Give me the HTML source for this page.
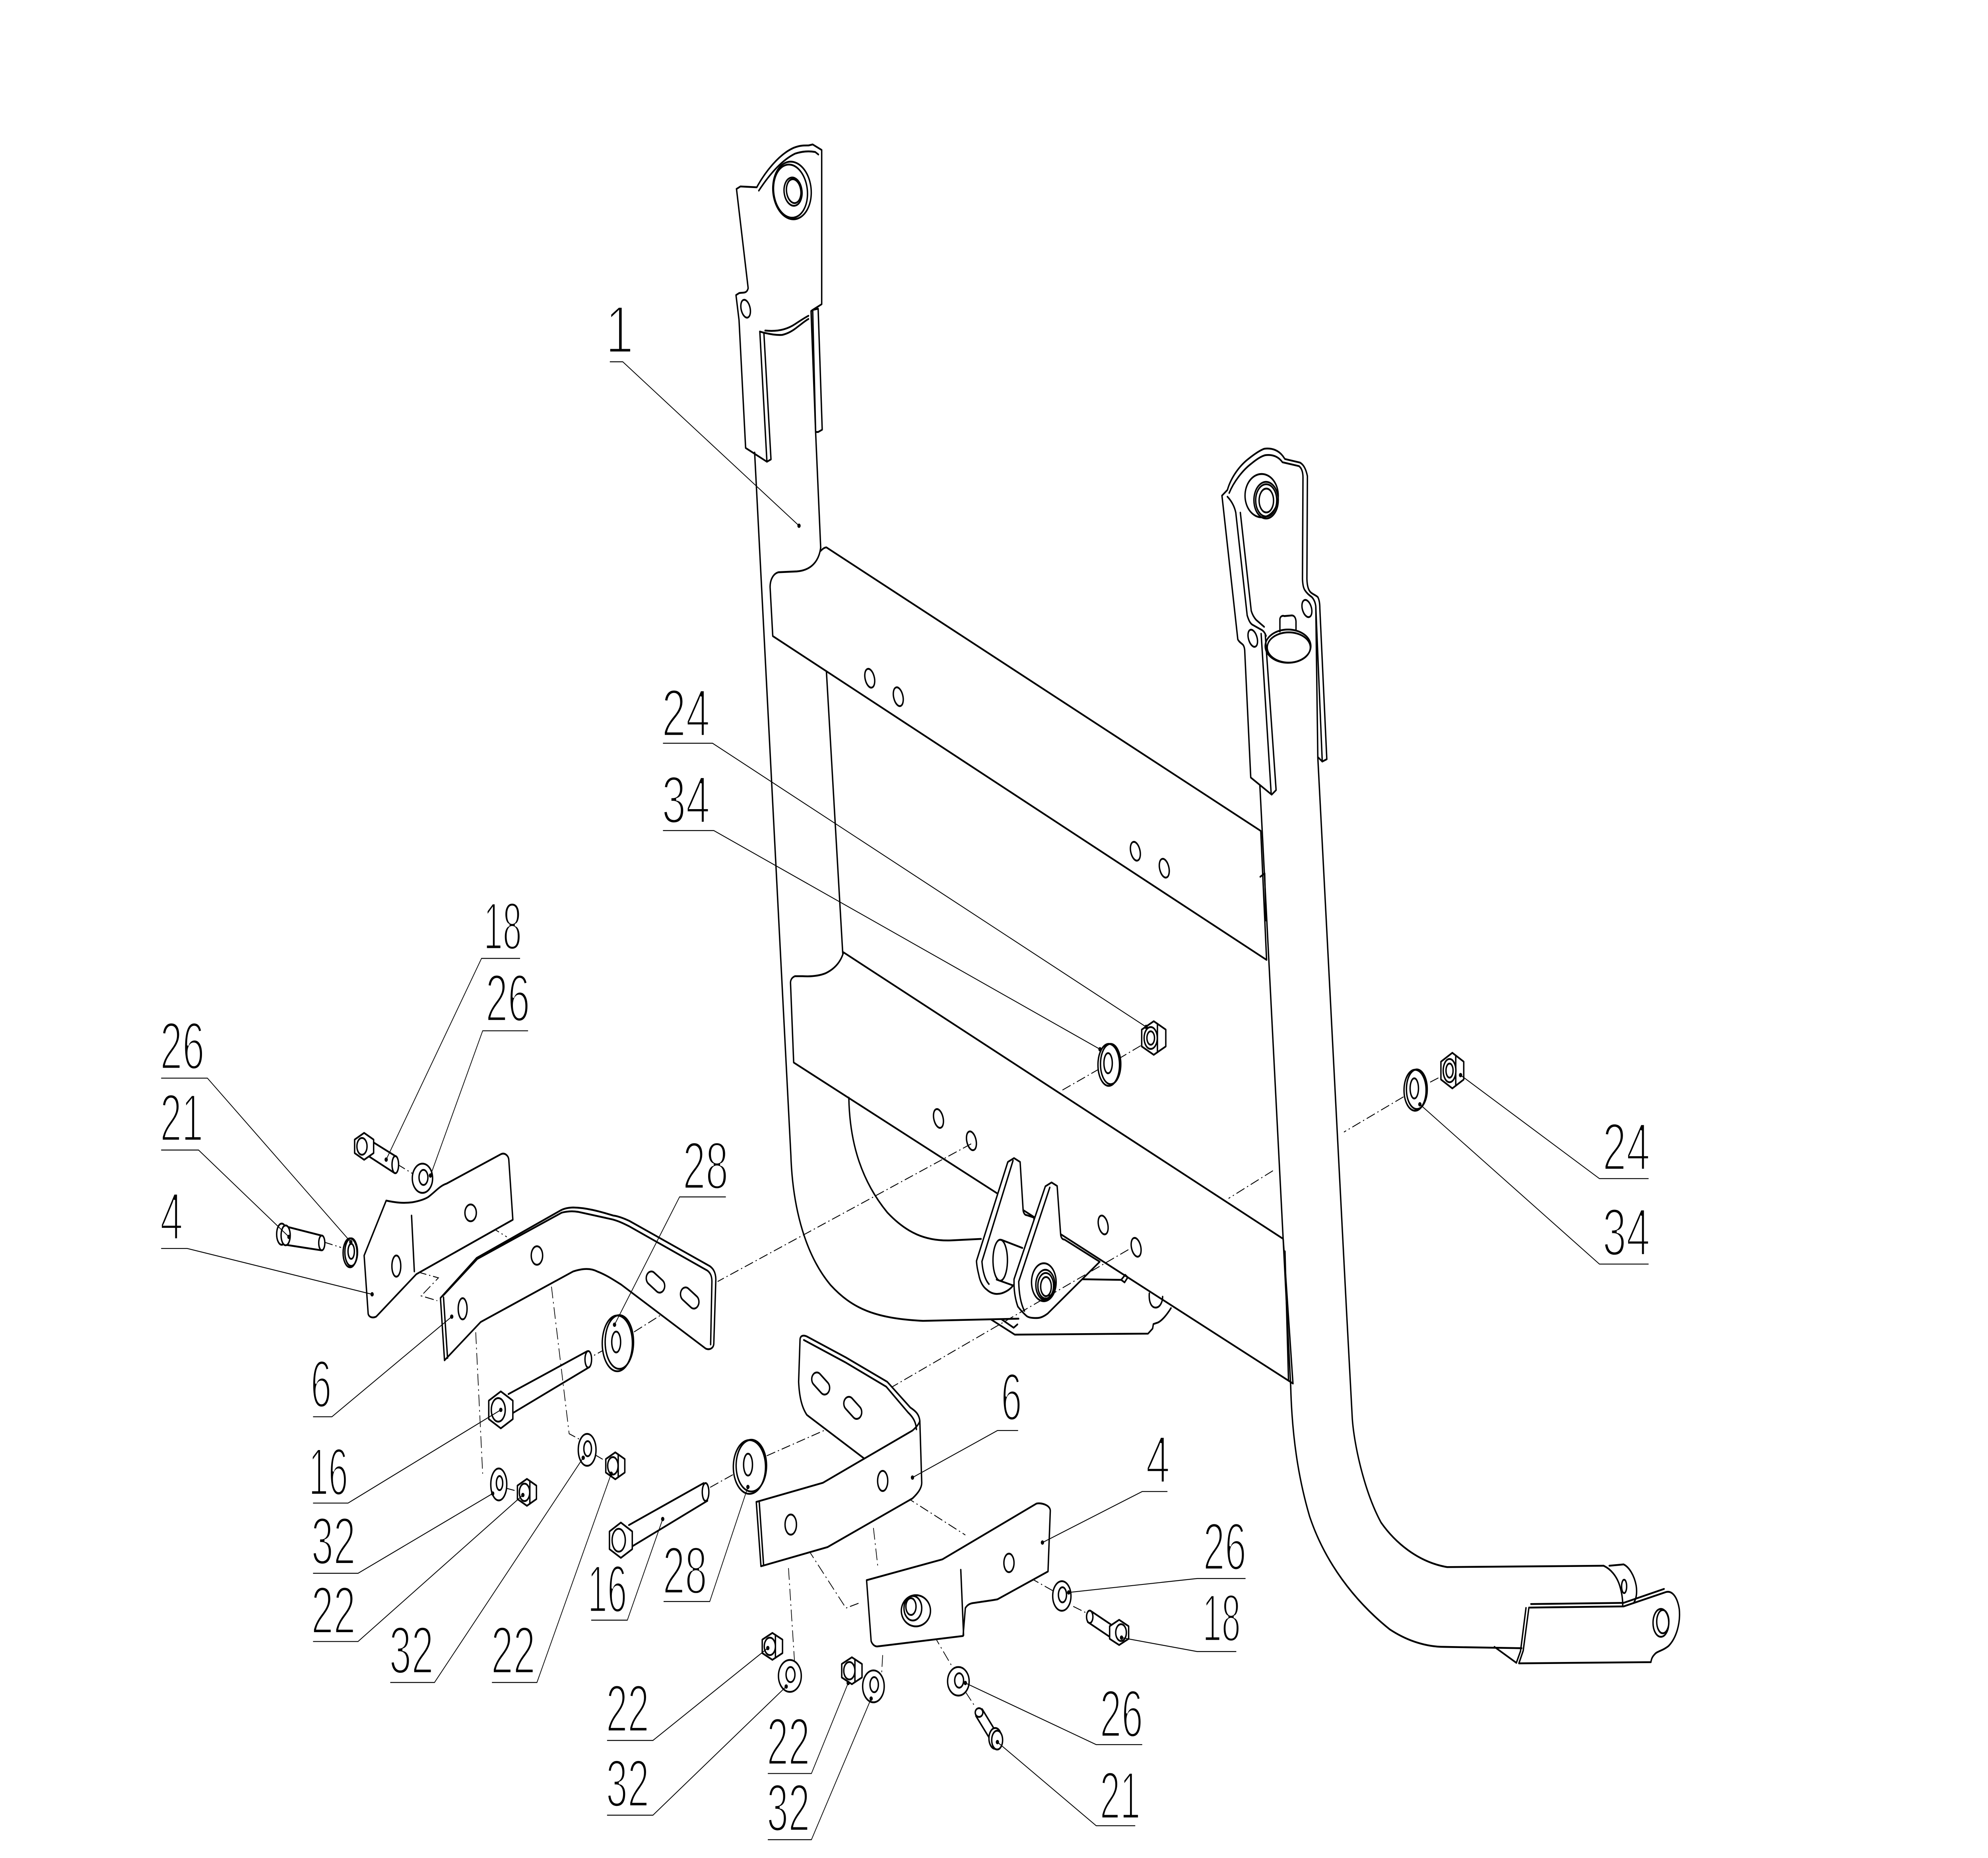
<!DOCTYPE html>
<html><head><meta charset="utf-8"><style>
html,body{margin:0;padding:0;background:#fff;width:100%;height:100%;overflow:hidden;}
svg{position:absolute;left:0;top:0;width:100vw;height:100vh;display:block}
.o{fill:none;stroke:#000;stroke-width:1.1;stroke-linejoin:round;stroke-linecap:round}
.w{fill:#fff;stroke:#000;stroke-width:1.1;stroke-linejoin:round;stroke-linecap:round}
.o .w{fill:#fff}
.l{fill:none;stroke:#000;stroke-width:0.55}
.d{fill:none;stroke:#000;stroke-width:0.55;stroke-dasharray:7 2.2 1 2.2}
text{font-family:"Liberation Sans",sans-serif;font-size:40px;fill:#000;stroke:#fff;stroke-width:1.5}
</style></head><body>
<svg xmlns="http://www.w3.org/2000/svg" viewBox="0 0 1568 1106.2" preserveAspectRatio="none">
<rect x="0" y="0" width="1568" height="1106.2" fill="#fff"/>

<!-- main frame (part 1) -->
<g class="o">
<!-- left eye plate -->
<path d="M580.9,112.5 L584,111 L596.9,111.5 C603,103 614,92 626,88 C631,86.5 634,86.6 637.7,86.6 L641,86 L648.1,89.3 L648.1,181.1 L641,184.5"/>
<path d="M598.5,113.5 C605,106 615,96 627,91.5 C633,90 638,89.8 643,90.5 L645.5,92"/>
<path d="M580.9,112.5 L590.1,171.6 C589,175 586,174 583,174.5 L580.5,175.7 L582.9,190.6 L588.1,266.7 L604.9,274.9 L608.1,273.5 L602.5,198.1 L599.3,197.4"/>
<path d="M599.3,197.4 L604.9,274.9"/>
<ellipse cx="624.7" cy="113.4" rx="15" ry="17.3" transform="rotate(-15 624.7 113.4)"/>
<ellipse cx="623.5" cy="113.8" rx="13.2" ry="16" transform="rotate(-15 623.5 113.8)"/>
<ellipse cx="625.5" cy="114.1" rx="7" ry="8.5" transform="rotate(-15 625.5 114.1)"/>
<ellipse cx="626" cy="113.8" rx="5.6" ry="7.2" transform="rotate(-15 626 113.8)"/>
<ellipse cx="588.1" cy="183.8" rx="3.5" ry="5.5" transform="rotate(-20 588.1 183.8)"/>
<path d="M602.5,198.1 C608,199 612,199.6 616.9,199.4 C622,198.5 626,196.5 628.9,194.7 C632,193 635,191 637.7,189.9"/>
<path d="M603.5,196.8 C612,197.5 620,196.5 627,193 C632,190.5 635,189 637.7,188"/>
<path d="M639.7,185.2 L641,184.5 L645.3,183.8 L648.5,255.8 L645.3,257.2 L643.3,257.2 Z"/>
<path d="M641,185 L643.3,257.2"/>
<!-- left tube -->
<path d="M595.2,269.4 L623.8,688 C625,715 633,745 655,765 C672,779 690,785 728,786.4 L803.4,785.1"/>
<path d="M643.3,257.2 L647.3,326"/>
<!-- upper beam -->
<path d="M647.3,326 C646,334 640,339.5 628.5,340.2 L614,340.7 C610,341.5 607.4,345 607.4,349.5 L609.5,378.7 L999,571.5 L994.4,494.7 L651.8,325.9 C650,326 648.6,327 647.3,328"/>
<path d="M994,522 L997.5,520 L998.5,548"/>
<path d="M651.8,399.6 L664.7,567.6"/>
<ellipse cx="686" cy="403.8" rx="3.6" ry="5.8" transform="rotate(-20 686 403.8)"/>
<ellipse cx="708.5" cy="414.8" rx="3.6" ry="5.8" transform="rotate(-20 708.5 414.8)"/>
<ellipse cx="895.5" cy="506.8" rx="3.6" ry="5.8" transform="rotate(-20 895.5 506.8)"/>
<ellipse cx="918.3" cy="516.9" rx="3.6" ry="5.8" transform="rotate(-20 918.3 516.9)"/>
<!-- lower beam -->
<path d="M665.3,567 C663,573 658,577 651,579.5 C646,581 640,581.5 633,581.2 L627,581.2 C624.5,582 623.5,583.5 623.5,585.1 L626,632.6 L1019.8,823.7"/>
<path d="M665.3,567 L1012.1,737.6 L1019.8,823.7"/>
<path d="M1013.5,745 L1016.3,822"/>
<ellipse cx="740.2" cy="665.9" rx="3.6" ry="5.8" transform="rotate(-20 740.2 665.9)"/>
<ellipse cx="766.2" cy="679.2" rx="3.6" ry="5.8" transform="rotate(-20 766.2 679.2)"/>
<ellipse cx="870.1" cy="729.3" rx="3.6" ry="5.8" transform="rotate(-20 870.1 729.3)"/>
<ellipse cx="896.1" cy="742.6" rx="3.6" ry="5.8" transform="rotate(-20 896.1 742.6)"/>
<path d="M669.5,653.5 C670,675 676,700 700,722 C715,734 730,739 750,738.5 L773.8,737.6"/>
<!-- right tube -->
<path d="M993.7,467.7 L1018,825 C1019,855 1024,880 1033,903 C1045,930 1068,953 1096,970 C1110,977 1125,980.5 1139.1,980.5 L1200.2,981.3"/>
<path d="M1039.4,451 L1062.1,781.2 L1066.6,844.6 C1068,860 1076,888 1089.3,906.5 C1100,918 1118,930 1141.4,933 L1264.8,932.2"/>
<!-- right eye plate -->
<path d="M963.8,295.1 L968.1,291.7 C971,284 978,277 985,273 C990,270 994,268 997.1,267.2 C1003,266.5 1009,268 1012.8,272.6 L1013.5,273.3 L1025.3,275.4 C1028,276.5 1030,279 1031.2,283.5 L1030.8,344.7 C1031,349 1032,351.5 1034,352.8 C1036,354 1038,354.5 1039.4,355.5 C1040.5,357 1041,359 1041,362.3 L1046.5,452 L1042.9,453.4 L1039.4,450.7 L1037.8,361"/>
<path d="M969.5,293.5 C973,287 980,280 987,276 C991,273.5 995,271.5 998,271 C1003,270.5 1008,271.5 1011.5,275.2 L1024.5,277.5 C1026.5,278.5 1027.7,281 1027.7,284.2 L1027.3,344.7 C1027.5,348 1028,350 1029.2,351.4 C1031,353.5 1033,354.5 1034.7,355.5 C1036.5,357 1037.5,359 1037.8,361 L1042.9,453.4"/>
<path d="M963.8,295.1 L976.3,380.7 C977.5,382.5 979.5,383 980.6,384.1 C981.5,385.2 981.8,386.5 981.8,388.2 L986.5,462.9 L1003,473.1 L1006.5,470.4 L997.9,377.3"/>
<path d="M1002.6,472.4 L994.7,377.3"/>
<path d="M968.1,295.7 C971,298 973.5,301 974.7,305.2 L983.7,366.4 C985,369.5 986,371 987.7,371.9 L995.5,375.2 C997,376 998,377.3 998.6,378.6"/>
<path d="M978.3,305.2 L986.9,363.7 C988,366.5 989.5,368 990.8,369.1 L997.1,373.2"/>
<ellipse cx="995.1" cy="295.1" rx="13.1" ry="12.9"/>
<ellipse cx="998.6" cy="297.8" rx="9.6" ry="10.9"/>
<ellipse cx="998.7" cy="297.9" rx="8.3" ry="9.6"/>
<ellipse cx="998.8" cy="298" rx="5.7" ry="7.1"/>
<ellipse cx="988.1" cy="380" rx="3.3" ry="5.4" transform="rotate(-25 988.1 380)"/>
<ellipse cx="1030.8" cy="362.3" rx="3.5" ry="5.4" transform="rotate(-25 1030.8 362.3)"/>
<ellipse cx="1015.9" cy="384.7" rx="18" ry="9.9"/>
<ellipse cx="1016.5" cy="385.5" rx="17" ry="9"/>
<path d="M1009.5,376 L1009.5,368.5 C1010,366.5 1012,366.5 1013,366.8 L1019,366.4 C1021,366.5 1022,368 1022.2,370 L1022.2,375.5"/>
<!-- right foot -->
<path d="M1264.8,932.2 C1270,934 1275,938 1277.5,944 C1279.5,949 1280,953 1279.9,957"/>
<path d="M1269.3,932.2 L1280.6,931.4 C1285,933 1289,938 1290.5,944 C1291.5,949 1290.5,953 1287,956"/>
<ellipse cx="1281" cy="944.5" rx="2" ry="4"/>
<path d="M1178.7,980.5 L1196,990"/>
<path class="w" d="M1205.9,957.1 L1280.6,956.4 L1313.4,948 C1319,946.5 1323,951 1324.5,958 C1325.5,966 1322.5,975 1316,980 C1311,983 1307,983 1305,985 C1303,986.5 1302.5,988 1302.1,989.6 L1198,990.3 L1201.4,982.8 Z"/>
<path d="M1207.5,955 L1280.5,954.3 L1312.5,946"/>
<path d="M1203.6,957.3 L1199.3,983 L1196,990"/>
<ellipse cx="1310" cy="966.2" rx="6.2" ry="8.3"/>
<ellipse cx="1311.5" cy="965.5" rx="4.8" ry="6.9"/>
<!-- clevis bracket -->
<path d="M781.7,785.6 L800.4,794.6 L905.5,794 L909.1,791 L909.7,788.3 L913.3,787.4 C917,786 921,782 923.6,778.8"/>
<path d="M790,785.5 L799.5,790.5 L802.5,788.5"/>
<path d="M852.3,761.6 L884.3,762 L887.5,759 L889.5,760.5 L887,763.5 L884.3,762"/>
<path d="M906.5,770 C906,775 908,778.5 911.5,778.5 C915,778.5 917,775 917,772"/>
<path class="w" d="M794.9,691.8 L799.8,689.5 L804.6,691.8 L807,720.8 C807.5,722.5 808.5,723.5 810,723.5 L815.5,724.9 L816,760 L799.2,765.2 C797,767.5 794,769 790,770 C786,770.8 782,770.3 778.6,768 C775,766 773,763 772,759 C771,756 770.3,753 770.2,750.7 Z"/>
<path d="M799,691 L774.5,751 C775,757 777,762 780,764.5"/>
<path d="M790,738.2 L806.4,743"/>
<path d="M786,761.8 L798.6,765.2"/>
<ellipse class="w" cx="788.9" cy="750.3" rx="5.7" ry="12.2"/>
<path class="w" d="M799.8,761.6 L824.5,706.3 L829.4,704 L833.8,706.1 L836.6,735.3 C837,737 838,738 839.6,738 L867.4,751.2 L826.4,782 C823,784 820,784.7 817.9,784.7 C814,784.8 811,784.5 809.4,783.3 C806,781 804,779 802.8,777.9 C801,774 800,770 799.8,765.2 Z"/>
<path d="M828,707 L803.5,763 C803.7,770 805,776 808,780.5"/>
<ellipse class="w" cx="823.3" cy="763.4" rx="9.7" ry="11.3"/>
<ellipse cx="824.5" cy="765" rx="7.5" ry="9"/>
<ellipse cx="824.8" cy="765.5" rx="6.2" ry="7.6"/>
<ellipse cx="825" cy="766" rx="4.2" ry="5.7"/>
</g>

<!-- dash-dot axis lines -->
<g class="d">
<path d="M838,649 L868,636"/>
<path d="M882,630.5 L901,622"/>
<path d="M1128,644.3 L1138.7,640.1"/>
<path d="M1107,653 L1060,674"/>
<path d="M1004,697 L969,713.5"/>
<path d="M890,744 L703,826"/>
<path d="M682,841 L604,867"/>
<path d="M578,878 L559,886"/>
<path d="M766,681 L566,763"/>
<path d="M540,774 L498,794"/>
<path d="M478,803 L466,808"/>
<path d="M313,693 L326,699"/>
<path d="M255.5,739.5 L269,742.7"/>
<path d="M317.3,754.7 L345.8,760.8 L332.2,771.5 L344.9,774.4"/>
<path d="M376,725.3 L399.7,736.4"/>
<path d="M374.4,780.8 L380.7,877.4"/>
<path d="M399,886 L409,888"/>
<path d="M433,753.8 L448.9,853.6 L456.8,856.8"/>
<path d="M469,866 L478,870"/>
<path d="M629.1,912.8 L667.2,957.4 L678,954.3"/>
<path d="M703.4,885.9 L761.4,913.9"/>
<path d="M621.9,933.6 L626.6,988.5"/>
<path d="M688.9,909.7 L692.5,933.6"/>
<path d="M696.2,985.4 L695.4,995.8"/>
<path d="M801.2,934.6 L830.2,947"/>
<path d="M846.5,956.4 L857.4,960.5"/>
<path d="M728.8,963.6 L750.5,991.6"/>
<path d="M761.4,1007.2 L768.6,1015.5"/>
</g>

<!-- loose parts -->
<g class="w">
<ellipse cx="874.5" cy="634" rx="8.5" ry="12.5"/>
<ellipse cx="876" cy="633.5" rx="8" ry="12" fill="none"/>
<ellipse cx="874" cy="633" rx="3.3" ry="6"/>
<polygon points="910,608 919.5,613 919.5,623 910,628 900.5,623 900.5,613"/>
<path d="M912.9,609.5 L912.9,626.5" fill="none"/>
<ellipse cx="907.6" cy="618" rx="5.2" ry="6.5"/>
<ellipse cx="907.6" cy="618" rx="3" ry="4"/>
<ellipse cx="1116.1" cy="649.1" rx="8.7" ry="12.2"/>
<ellipse cx="1117.5" cy="648.5" rx="8.2" ry="11.8" fill="none"/>
<ellipse cx="1115.5" cy="648" rx="3.3" ry="6"/>
<polygon points="1145.5,626.8 1154.5,632.1 1154.5,642.7 1145.5,648 1136.5,642.7 1136.5,632.1"/>
<path d="M1148.2,628.4 L1148.2,646.4" fill="none"/>
<ellipse cx="1143.3" cy="637.4" rx="5" ry="6.9"/>
<ellipse cx="1143.3" cy="637.4" rx="2.8" ry="4.2"/>

<path d="M287.2,747.5 L304.6,714.8 C312,716 318,716.5 325.2,715.8 C331,715 335,714 337.9,712.6 C344,709 347,706 352.2,704.7 L395,687.2 C398,686 401,688 401.3,690.4 L404.5,726.2 L328.4,758.6 L296.7,783.9 C293.5,785 291,784 290.4,782.3 Z"/>
<path d="M324.6,723.7 L326.8,757" fill="none"/>
<ellipse cx="312.6" cy="753.8" rx="3.5" ry="6.3"/>
<ellipse cx="371.2" cy="722.1" rx="4.5" ry="5"/>
<path d="M347.4,772.8 L350.6,809.9 L379.1,787.1 L452,757 C460,755 466,755 471.1,757 C478,759 484,762 490.1,764.9 L556.6,802.9 C560,804 563,802.5 563,799.8 L564.6,761.7 C564.5,757 562,755 559.8,753.8 L496.4,726.9 C491,725 487,724 483.7,723.7 C472,721 462,719 452,718.9 C448,719 445,719.5 442.5,720.5 L375.9,749 Z"/>
<path d="M349.8,772.3 L353,808.5" fill="none"/>
<path d="M350,771 L376.5,749.5 L443,722 C448,721 452,721 456,721.5 L483,726 C488,727 492,728.5 496,730 L558,756.5 C560.5,758 561.5,760 561.5,763 L560.5,800.5" fill="none"/>
<ellipse cx="364.9" cy="779.2" rx="3.5" ry="6.3"/>
<ellipse cx="423.5" cy="747.5" rx="4.5" ry="5.5"/>
<rect x="509" y="759.3" width="16" height="8" rx="4" transform="rotate(35 517 763.3)"/>
<rect x="536" y="768.8" width="16" height="8" rx="4" transform="rotate(35 544 772.8)"/>
<path d="M290,678 L312.3,688.5 M289,687.5 L311,698.3" fill="none"/>
<ellipse cx="311.8" cy="693.4" rx="2.6" ry="5.1"/>
<polygon points="287.2,674.5 294.7,678.5 294.7,686.5 287.2,690.5 279.7,686.5 279.7,678.5"/>
<ellipse cx="285.5" cy="682.5" rx="4" ry="5"/>
<ellipse cx="333.2" cy="701.5" rx="8" ry="8.7"/>
<ellipse cx="334" cy="701" rx="3.5" ry="4.5"/>
<path d="M226,730.3 L253.5,735.6 M226,741.2 L253.5,744.4" fill="none"/>
<ellipse cx="253.8" cy="740" rx="2.4" ry="4.4"/>
<ellipse cx="222.2" cy="734.8" rx="4" ry="6.3"/>
<ellipse cx="225.3" cy="735.5" rx="3.6" ry="5.9"/>
<ellipse cx="276.1" cy="745.9" rx="5.5" ry="8.6"/>
<ellipse cx="277" cy="745.5" rx="5" ry="8.2" fill="none"/>
<ellipse cx="277" cy="745" rx="2.5" ry="4.5"/>
<path d="M401,830 L463.1,804.5 M404,841.5 L464.7,814" fill="none"/>
<ellipse cx="464" cy="809.3" rx="2.6" ry="4.9"/>
<polygon points="395,828.4 404.5,833.9 404.5,844.9 395,850.4 385.5,844.9 385.5,833.9"/>
<ellipse cx="393" cy="839.4" rx="5.5" ry="7"/>
<ellipse cx="486.9" cy="799.8" rx="11.9" ry="16.6"/>
<ellipse cx="488.5" cy="799" rx="11.2" ry="16" fill="none"/>
<ellipse cx="486" cy="799" rx="3.5" ry="6.2"/>
<ellipse cx="393.4" cy="883.8" rx="6.3" ry="9.5"/>
<ellipse cx="394" cy="883" rx="2.5" ry="4.2"/>
<polygon points="415.6,880.5 423.1,884.5 423.1,892.5 415.6,896.5 408.1,892.5 408.1,884.5"/>
<path d="M417.9,881.7 L417.9,895.3" fill="none"/>
<ellipse cx="413.7" cy="888.5" rx="4.1" ry="5.2"/>
<ellipse cx="463.1" cy="863.2" rx="7" ry="9.5"/>
<ellipse cx="463.5" cy="862.5" rx="3" ry="4.5"/>
<polygon points="485.3,864.7 492.8,868.7 492.8,876.7 485.3,880.7 477.8,876.7 477.8,868.7"/>
<path d="M487.6,865.9 L487.6,879.5" fill="none"/>
<ellipse cx="483.4" cy="872.7" rx="4.1" ry="5.2"/>
<path d="M496,908 L555,883 M499,920.5 L558,893.5" fill="none"/>
<ellipse cx="556.5" cy="888.3" rx="2.6" ry="5.3"/>
<polygon points="489.7,906.5 498.7,911.8 498.7,922.3 489.7,927.5 480.7,922.3 480.7,911.8"/>
<ellipse cx="488" cy="917" rx="5.2" ry="6.8"/>
<ellipse cx="591.1" cy="873.4" rx="12.7" ry="16"/>
<ellipse cx="592.6" cy="872.6" rx="12" ry="15.4" fill="none"/>
<ellipse cx="590" cy="872" rx="3.5" ry="6.5"/>
<path d="M596.5,894.2 L649.1,882.8 L681.7,868.4 L636.4,842.4 C632.5,838 630.5,832 629.9,822.7 L631,797.8 C631,795.5 633,794.5 636.4,795.7 L667.2,808.2 L699.8,822.7 L718,838 C722,840 725,842 725.5,846 L727,882.8 C727,886 724,889 719.7,892.1 L652.7,921.1 L600.2,932.5 Z"/>
<path d="M681.7,868.4 L719.7,851.7 C723,849.5 725,847.5 725.5,846" fill="none"/>
<path d="M598.8,894 L602.3,932" fill="none"/>
<path d="M634,797.8 L667,811.2 L699,825.6 L716.3,841 C720.5,844 722.5,847 722.8,851" fill="none"/>
<rect x="639.3" y="819.7" width="16" height="8" rx="4" transform="rotate(40 647.3 823.7)"/>
<rect x="664.6" y="834.2" width="16" height="8" rx="4" transform="rotate(40 672.6 838.2)"/>
<ellipse cx="623.7" cy="907.7" rx="4.5" ry="6"/>
<ellipse cx="696.2" cy="881.7" rx="4" ry="6"/>
<path d="M683.5,940.8 L687.1,977.1 C688,979 690,980.5 692.5,980.2 L759.6,974 L761.4,957.4 C763,955.5 765,954.5 768.6,954.3 C775,953.5 781,953 786.7,952.2 L826.6,935.6 L828.4,899.4 C828.3,896 821,894.5 817.5,895.2 L743.3,928.4 Z"/>
<path d="M757.8,934.6 L760,973.5" fill="none"/>
<ellipse cx="722.4" cy="959" rx="11.5" ry="9.3"/>
<ellipse cx="720" cy="957.5" rx="7" ry="7.3"/>
<ellipse cx="718.5" cy="956.5" rx="4" ry="5"/>
<ellipse cx="795.8" cy="930.5" rx="4" ry="5.5"/>
<ellipse cx="837.5" cy="950.2" rx="7.2" ry="8.8"/>
<ellipse cx="838" cy="949.5" rx="3.2" ry="4.5"/>
<path d="M861.1,959.5 L879.6,968.9 M857.9,965.7 L876.4,975.1" fill="none"/>
<ellipse cx="859.5" cy="962.6" rx="2.5" ry="3.7"/>
<polygon points="882.7,964.4 890.2,968.2 890.2,975.7 882.7,979.4 875.2,975.7 875.2,968.2"/>
<ellipse cx="884.2" cy="972" rx="4.2" ry="5"/>
<ellipse cx="755.9" cy="1001" rx="8.5" ry="8.5"/>
<ellipse cx="756.5" cy="1000.5" rx="3.5" ry="4.3"/>
<path d="M774.7,1017.6 L785.5,1031 M769.7,1021.6 L780.5,1035" fill="none"/>
<ellipse cx="772.2" cy="1019.6" rx="3" ry="2.6"/>
<ellipse cx="785" cy="1035" rx="5" ry="6.2"/>
<ellipse cx="786.5" cy="1036" rx="4.3" ry="5.6"/>
<polygon points="609.2,972.2 617.2,976.2 617.2,984.2 609.2,988.2 601.2,984.2 601.2,976.2"/>
<path d="M611.6,973.4 L611.6,987" fill="none"/>
<ellipse cx="607.2" cy="980.2" rx="4.4" ry="5.2"/>
<ellipse cx="623" cy="997.8" rx="9" ry="9.5"/>
<ellipse cx="623.5" cy="997" rx="3.5" ry="4.5"/>
<polygon points="671.9,986.7 679.9,990.7 679.9,998.7 671.9,1002.7 663.9,998.7 663.9,990.7"/>
<path d="M674.3,987.9 L674.3,1001.5" fill="none"/>
<ellipse cx="669.9" cy="994.7" rx="4.4" ry="5.2"/>
<ellipse cx="688.9" cy="1004" rx="8.5" ry="9.5"/>
<ellipse cx="689.5" cy="1003" rx="3.3" ry="4.5"/>
</g>

<!-- leaders with underlines -->
<g class="l">
<path d="M481,215.4 H491.2 L630.2,313"/>
<path d="M522.9,442.5 H562 L904,611.4"/>
<path d="M522.9,494.5 H563 L867.6,624.7"/>
<path d="M410.2,570.6 H379.8 L304.6,690.4"/>
<path d="M416.5,613.7 H380.7 L339.5,699.9"/>
<path d="M127.1,641.9 H163.6 L276.7,739.5"/>
<path d="M127.1,684.7 H156.6 L227.9,736.4"/>
<path d="M127.1,743.3 H147.7 L293.5,770.6"/>
<path d="M246.9,843.5 H261.8 L356.3,783.9"/>
<path d="M246.9,894.9 H274.5 L395,839.4"/>
<path d="M246.9,936.7 H282.4 L388.6,889.2"/>
<path d="M246.9,977.3 H282.4 L412.4,890.1"/>
<path d="M307.8,1001.7 H342.7 L460,867.9"/>
<path d="M388,1001.7 H423.5 L482.1,877.4"/>
<path d="M572.5,712.6 H536 L484.7,788.7"/>
<path d="M466.3,964.6 H494.8 L522.7,904.4"/>
<path d="M523.4,953.5 H559.8 L589.9,885.3"/>
<path d="M803,851.7 H786.7 L719.7,879.7"/>
<path d="M920.8,888 H900.9 L822.2,918.4"/>
<path d="M982.4,939.8 H944.3 L842.9,948.1"/>
<path d="M975.1,983.3 H944.3 L884.6,975"/>
<path d="M900.9,1038.7 H864.6 L761.4,1002"/>
<path d="M895.4,1087 H864.6 L786.7,1037.2"/>
<path d="M478.8,1036.2 H515 L605.6,981.2"/>
<path d="M478.8,1080.7 H515 L620.1,1004.1"/>
<path d="M605.6,1055.9 H640 L669,1002"/>
<path d="M605.6,1095.3 H640 L687.1,1011.3"/>
<path d="M1300.3,701.7 H1261.5 L1152,640.1"/>
<path d="M1300.3,752.6 H1261.5 L1119.9,657.5"/>
</g>
<g fill="#000">
<circle cx="630.2" cy="313" r="1.3"/>
<circle cx="904" cy="611.4" r="1.3"/>
<circle cx="867.6" cy="624.7" r="1.3"/>
<circle cx="304.6" cy="690.4" r="1.3"/>
<circle cx="339.5" cy="699.9" r="1.3"/>
<circle cx="276.7" cy="739.5" r="1.3"/>
<circle cx="227.9" cy="736.4" r="1.3"/>
<circle cx="293.5" cy="770.6" r="1.3"/>
<circle cx="356.3" cy="783.9" r="1.3"/>
<circle cx="395" cy="839.4" r="1.3"/>
<circle cx="388.6" cy="889.2" r="1.3"/>
<circle cx="412.4" cy="890.1" r="1.3"/>
<circle cx="460" cy="867.9" r="1.3"/>
<circle cx="482.1" cy="877.4" r="1.3"/>
<circle cx="484.7" cy="788.7" r="1.3"/>
<circle cx="522.7" cy="904.4" r="1.3"/>
<circle cx="589.9" cy="885.3" r="1.3"/>
<circle cx="719.7" cy="879.7" r="1.3"/>
<circle cx="822.2" cy="918.4" r="1.3"/>
<circle cx="842.9" cy="948.1" r="1.3"/>
<circle cx="884.6" cy="975" r="1.3"/>
<circle cx="761.4" cy="1002" r="1.3"/>
<circle cx="786.7" cy="1037.2" r="1.3"/>
<circle cx="605.6" cy="981.2" r="1.3"/>
<circle cx="620.1" cy="1004.1" r="1.3"/>
<circle cx="669" cy="1002" r="1.3"/>
<circle cx="687.1" cy="1011.3" r="1.3"/>
<circle cx="1152" cy="640.1" r="1.3"/>
<circle cx="1119.9" cy="657.5" r="1.3"/>
</g>

<!-- labels -->
<g>
<text x="477.5" y="210">1</text>
<text x="522" y="438.3" textLength="38" lengthAdjust="spacingAndGlyphs">24</text>
<text x="522" y="490" textLength="38" lengthAdjust="spacingAndGlyphs">34</text>
<text x="381.5" y="565.2" textLength="30" lengthAdjust="spacingAndGlyphs">18</text>
<text x="383" y="608" textLength="35" lengthAdjust="spacingAndGlyphs">26</text>
<text x="126.3" y="636.5" textLength="35" lengthAdjust="spacingAndGlyphs">26</text>
<text x="126.3" y="679.3" textLength="34" lengthAdjust="spacingAndGlyphs">21</text>
<text x="126.3" y="738" textLength="18" lengthAdjust="spacingAndGlyphs">4</text>
<text x="245" y="837.8" textLength="16.5" lengthAdjust="spacingAndGlyphs">6</text>
<text x="243.5" y="890.1" textLength="31" lengthAdjust="spacingAndGlyphs">16</text>
<text x="245.5" y="931.3" textLength="35" lengthAdjust="spacingAndGlyphs">32</text>
<text x="245.5" y="972.5" textLength="35" lengthAdjust="spacingAndGlyphs">22</text>
<text x="307" y="996.3" textLength="35" lengthAdjust="spacingAndGlyphs">32</text>
<text x="387.3" y="996.3" textLength="35" lengthAdjust="spacingAndGlyphs">22</text>
<text x="538.5" y="707.8" textLength="36" lengthAdjust="spacingAndGlyphs">28</text>
<text x="463.5" y="959.8" textLength="31" lengthAdjust="spacingAndGlyphs">16</text>
<text x="522.7" y="948.8" textLength="35" lengthAdjust="spacingAndGlyphs">28</text>
<text x="789.5" y="845.5" textLength="16.5" lengthAdjust="spacingAndGlyphs">6</text>
<text x="903.8" y="882.8" textLength="19" lengthAdjust="spacingAndGlyphs">4</text>
<text x="949" y="934.6" textLength="34" lengthAdjust="spacingAndGlyphs">26</text>
<text x="948.5" y="977.1" textLength="30" lengthAdjust="spacingAndGlyphs">18</text>
<text x="867.5" y="1034.1" textLength="34" lengthAdjust="spacingAndGlyphs">26</text>
<text x="867.5" y="1082.8" textLength="32" lengthAdjust="spacingAndGlyphs">21</text>
<text x="478" y="1031" textLength="34" lengthAdjust="spacingAndGlyphs">22</text>
<text x="478" y="1075.6" textLength="34" lengthAdjust="spacingAndGlyphs">32</text>
<text x="604.8" y="1050.7" textLength="34" lengthAdjust="spacingAndGlyphs">22</text>
<text x="604.8" y="1090.1" textLength="34" lengthAdjust="spacingAndGlyphs">32</text>
<text x="1264" y="696.6" textLength="37.5" lengthAdjust="spacingAndGlyphs">24</text>
<text x="1264" y="747.4" textLength="37.5" lengthAdjust="spacingAndGlyphs">34</text>
</g>
</svg>
</body></html>
